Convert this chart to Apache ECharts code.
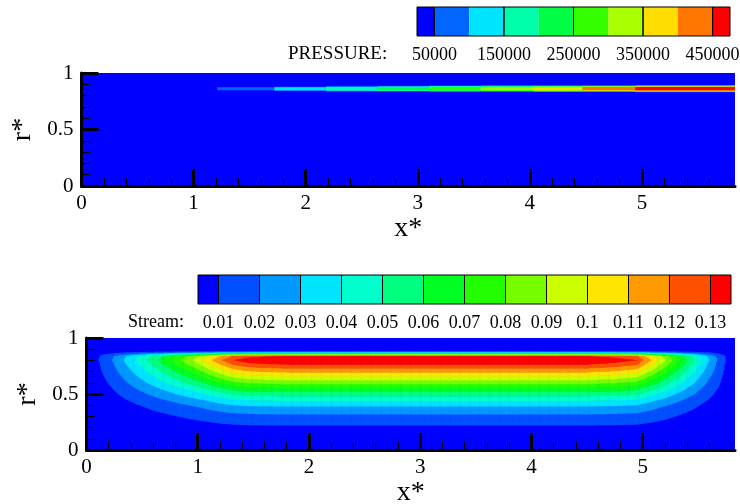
<!DOCTYPE html>
<html><head><meta charset="utf-8">
<script src="https://cdn.jsdelivr.net/npm/echarts@6/dist/echarts.min.js"></script>
<style>html,body{margin:0;padding:0;background:#fff}#c{width:740px;height:504px}</style>
</head><body><div id="c"></div>
<script>
// ---------------- data ----------------
const xMax = 5.83;
const xTickLabels = [0, 1, 2, 3, 4, 5];
const xMajorTicks = [1, 2, 3, 4, 5];

// pressure legend
const pressureEdges = [25000, 50000, 100000, 150000, 200000, 250000, 300000, 350000, 400000, 450000, 475000];
const pressureColors = ['#0000ff', '#0066ff', '#00e5ff', '#00ffaa', '#00ff44', '#33ff00', '#aaff00', '#ffdd00', '#ff7700', '#ff0000'];
const pressureLabels = [50000, 150000, 250000, 350000, 450000];

// pressure streak near the wall (x segments, peak band, r extent)
const streakStart = [1.21, 1.72, 2.18, 2.64, 3.10, 3.56, 4.03, 4.47, 4.94];
const streakEnd = [1.72, 2.18, 2.64, 3.10, 3.56, 4.03, 4.47, 4.94, 5.83];
const streakPeakBand = [1, 2, 3, 4, 5, 6, 7, 8, 9];
const streakBottom = [0.848, 0.840, 0.836, 0.836, 0.835, 0.835, 0.835, 0.834, 0.830];
const streakTop = [0.873, 0.878, 0.882, 0.884, 0.889, 0.889, 0.889, 0.889, 0.890];
const streakCoreLow = [0.848, 0.848, 0.848, 0.848, 0.848, 0.848, 0.848, 0.848, 0.848];
const streakCoreHigh = [0.873, 0.873, 0.874, 0.874, 0.876, 0.876, 0.876, 0.876, 0.877];

// stream function legend
const streamLevels = [0.01, 0.02, 0.03, 0.04, 0.05, 0.06, 0.07, 0.08, 0.09, 0.1, 0.11, 0.12, 0.13];
const streamColors = ['#0000ff', '#0050ff', '#0099ff', '#00e5ff', '#00ffcc', '#00ff80', '#00ff22', '#22ff00', '#77ff00', '#ccff00', '#ffe500', '#ff9900', '#ff5000', '#ff0000'];

// stream function: radial profile across the cell (mid length) ...
const radialR   = [0, 0.18, 0.222, 0.32, 0.39, 0.44, 0.48, 0.52, 0.555, 0.59, 0.625, 0.66, 0.695, 0.73, 0.765, 0.805, 0.842, 0.882, 0.89, 1.0];
const radialPsi = [0, 0.004, 0.01, 0.02, 0.03, 0.04, 0.05, 0.06, 0.07, 0.08, 0.09, 0.10, 0.11, 0.12, 0.13, 0.14, 0.13, 0.01, 0, 0];
const axialX = [0, 0.05, 0.11, 0.23, 0.35, 0.46, 0.56, 0.66, 0.76, 0.86, 0.96, 1.05, 1.13, 1.22, 1.32, 1.45, 1.6, 1.8,
                4.5, 4.75, 4.95, 5.01, 5.08, 5.14, 5.21, 5.27, 5.34, 5.40, 5.47, 5.53, 5.60, 5.67, 5.74, 5.79, 5.83];
const axialF = [0, 0.03, 0.071, 0.143, 0.225, 0.30, 0.37, 0.44, 0.51, 0.58, 0.65, 0.72, 0.79, 0.857, 0.929, 0.97, 0.99, 1.0,
                1.0, 0.97, 0.929, 0.857, 0.786, 0.714, 0.643, 0.571, 0.5, 0.429, 0.357, 0.286, 0.214, 0.143, 0.071, 0.03, 0];

// ---------------- build ----------------
const FONT = 'Liberation Serif';

function lookup(xs, ys, v) {
  if (v <= xs[0]) return ys[0];
  for (let i = 1; i < xs.length; i++) {
    if (v <= xs[i]) return ys[i - 1] + (ys[i] - ys[i - 1]) * (v - xs[i - 1]) / (xs[i] - xs[i - 1]);
  }
  return ys[ys.length - 1];
}
function bandOf(psi) {
  let b = 0;
  while (b < streamLevels.length && psi >= streamLevels[b]) b++;
  return b;
}
// table of cells: one column per x step, runs of equal band along r
const colStep = 0.01, rowStep = 0.002;
const streamColumns = [];
for (let x0 = 0; x0 < xMax - 1e-9; x0 += colStep) {
  const x1 = Math.min(xMax, x0 + colStep);
  const f = lookup(axialX, axialF, (x0 + x1) / 2);
  const runs = [];
  let cur = -1, start = 0;
  for (let r0 = 0; r0 < 1 - 1e-9; r0 += rowStep) {
    const b = bandOf(f * lookup(radialR, radialPsi, r0 + rowStep / 2));
    if (b !== cur) {
      if (cur > 0) runs.push([start, r0, cur]);
      cur = b; start = r0;
    }
  }
  if (cur > 0) runs.push([start, 1, cur]);
  streamColumns.push({ value: [x0, x1], runs });
}

const streakData = streakStart.map((x0, i) => [i]);
const pressureBands = pressureColors.map((c, i) => [pressureEdges[i], pressureEdges[i + 1], i]);
const pressureBoxEdges = [pressureEdges[0]].concat(pressureLabels, [pressureEdges[pressureEdges.length - 1]]);
const pressureBoxes = pressureBoxEdges.slice(0, -1).map((v, i) => [v, pressureBoxEdges[i + 1]]);
const streamEdges = [0.005].concat(streamLevels, [0.135]);
const streamBands = streamColors.map((c, i) => [streamEdges[i], streamEdges[i + 1], i]);

function plotAxes(gi, nameGapX) {
  const x = {
    gridIndex: gi, type: 'value', min: 0, max: xMax, interval: 1, z: 10,
    axisLine: { show: true, onZero: false, lineStyle: { color: '#000', width: 3 } },
    axisTick: { show: true, inside: true, length: 17, customValues: xMajorTicks, lineStyle: { color: '#000', width: 3 } },
    minorTick: { show: true, splitNumber: 5, length: 8, lineStyle: { color: '#000', width: 1.2 } },
    axisLabel: { customValues: xTickLabels, fontFamily: FONT, fontSize: 21, color: '#000', margin: 7 },
    splitLine: { show: false }, minorSplitLine: { show: false },
    name: 'x*', nameLocation: 'middle', nameGap: nameGapX,
    nameTextStyle: { fontFamily: FONT, fontSize: 28, color: '#000' }
  };
  const xTop = {
    gridIndex: gi, type: 'value', min: 0, max: xMax, position: 'top', z: 9,
    axisLine: { show: true, lineStyle: { color: '#a4a4ee', width: 1 } },
    axisTick: { show: false }, axisLabel: { show: false }, splitLine: { show: false }
  };
  const y = {
    gridIndex: gi, type: 'value', min: 0, max: 1, interval: 0.5, z: 10,
    axisLine: { show: true, onZero: false, lineStyle: { color: '#000', width: 3 } },
    axisTick: { show: true, inside: true, length: 17, lineStyle: { color: '#000', width: 3 } },
    minorTick: { show: true, splitNumber: 5, length: 8, lineStyle: { color: '#000', width: 1.2 } },
    axisLabel: { fontFamily: FONT, fontSize: 21, color: '#000', margin: 8 },
    splitLine: { show: false }, minorSplitLine: { show: false },
    name: 'r*', nameLocation: 'middle', nameGap: 40, nameRotate: 90,
    nameTextStyle: { fontFamily: FONT, fontSize: 28, color: '#000' }
  };
  return { x, xTop, y };
}
const a0 = plotAxes(0, 26), a1 = plotAxes(1, 26);

function boxRect(api, x0, x1) {
  const a = api.coord([x0, 1]), b = api.coord([x1, 0]);
  return { x: a[0], y: a[1], width: b[0] - a[0], height: b[1] - a[1] };
}

const option = {
  animation: false,
  backgroundColor: '#fff',
  grid: [
    { left: 81.5, top: 73, width: 653.5, height: 113, show: true, backgroundColor: '#0000ff', borderWidth: 0, outerBoundsMode: 'none', containLabel: false },
    { left: 86.5, top: 338, width: 648.5, height: 112, show: true, backgroundColor: '#0000ff', borderWidth: 0, outerBoundsMode: 'none', containLabel: false },
    { left: 417, top: 7, width: 313, height: 29, show: false, outerBoundsMode: 'none', containLabel: false },
    { left: 198, top: 275, width: 533, height: 29, show: false, outerBoundsMode: 'none', containLabel: false }
  ],
  xAxis: [
    a0.x, a1.x, a0.xTop, a1.xTop,
    { gridIndex: 2, type: 'value', min: pressureEdges[0], max: pressureEdges[pressureEdges.length - 1],
      axisLine: { show: false }, axisTick: { show: false }, splitLine: { show: false },
      axisLabel: { customValues: pressureLabels, fontFamily: FONT, fontSize: 18, color: '#000', margin: 10,
        formatter: v => String(v) } },
    { gridIndex: 3, type: 'value', min: 0.005, max: 0.135,
      axisLine: { show: false }, axisTick: { show: false }, splitLine: { show: false },
      axisLabel: { customValues: streamLevels, fontFamily: FONT, fontSize: 18, color: '#000', margin: 10,
        formatter: v => String(+(+v).toFixed(2)) } }
  ],
  yAxis: [
    a0.y, a1.y,
    { gridIndex: 2, type: 'value', min: 0, max: 1, show: false },
    { gridIndex: 3, type: 'value', min: 0, max: 1, show: false }
  ],
  graphic: [
    { type: 'text', left: 288, top: 45, style: { text: 'PRESSURE:', fontFamily: FONT, fontSize: 19, fill: '#000' } },
    { type: 'text', left: 128, top: 313, style: { text: 'Stream:', fontFamily: FONT, fontSize: 18, fill: '#000' } }
  ],
  series: [
    { // pressure streak
      type: 'custom', xAxisIndex: 0, yAxisIndex: 0, data: streakData, z: 3,
      renderItem: function (params, api) {
        const i = api.value(0);
        const p = streakPeakBand[i];
        const children = [];
        for (let j = 1; j <= p; j++) {
          const t = p === 1 ? 1 : (j - 1) / (p - 1);
          const lo = streakBottom[i] + (streakCoreLow[i] - streakBottom[i]) * t;
          const hi = streakTop[i] + (streakCoreHigh[i] - streakTop[i]) * t;
          const a = api.coord([streakStart[i], hi]);
          const b = api.coord([streakEnd[i], lo]);
          children.push({ type: 'rect', shape: { x: a[0], y: a[1], width: b[0] - a[0], height: b[1] - a[1] },
            style: { fill: pressureColors[j] } });
        }
        return { type: 'group', children };
      }
    },
    { // stream function cells
      type: 'custom', xAxisIndex: 1, yAxisIndex: 1, data: streamColumns, z: 3,
      renderItem: function (params, api) {
        const col = streamColumns[params.dataIndex];
        const children = col.runs.map(run => {
          const a = api.coord([col.value[0], run[1]]);
          const b = api.coord([col.value[1], run[0]]);
          return { type: 'rect', shape: { x: a[0], y: a[1], width: b[0] - a[0] + 0.6, height: b[1] - a[1] + 0.3 },
            style: { fill: streamColors[run[2]] } };
        });
        return { type: 'group', children };
      }
    },
    { // pressure colorbar
      type: 'custom', xAxisIndex: 4, yAxisIndex: 2, data: pressureBands,
      renderItem: (params, api) => ({ type: 'rect', shape: boxRect(api, api.value(0), api.value(1)),
        style: { fill: pressureColors[api.value(2)] } })
    },
    {
      type: 'custom', xAxisIndex: 4, yAxisIndex: 2, data: pressureBoxes, z: 4,
      renderItem: (params, api) => ({ type: 'rect', shape: boxRect(api, api.value(0), api.value(1)),
        style: { fill: 'none', stroke: '#000', lineWidth: 1 } })
    },
    { // stream colorbar
      type: 'custom', xAxisIndex: 5, yAxisIndex: 3, data: streamBands,
      renderItem: (params, api) => ({ type: 'rect', shape: boxRect(api, api.value(0), api.value(1)),
        style: { fill: streamColors[api.value(2)], stroke: '#000', lineWidth: 1 } })
    }
  ]
};
const chart = echarts.init(document.getElementById('c'), null, { renderer: 'canvas' });
chart.setOption(option);
</script>
</body></html>
